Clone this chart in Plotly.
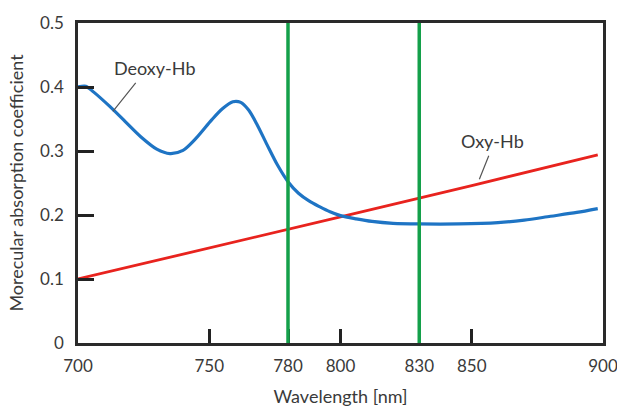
import plotly.graph_objects as go

# Data
deoxy_nm = [700, 703, 706, 712, 718, 724, 730, 735, 740, 745, 751, 755, 759, 762,
            765, 768, 772, 776, 780, 784, 788, 792, 796, 800, 806, 812, 820, 830,
            845, 860, 870, 880, 890, 898]
deoxy_val = [0.400, 0.401, 0.392, 0.370, 0.346, 0.322, 0.303, 0.296, 0.301, 0.320,
             0.349, 0.366, 0.377, 0.376, 0.364, 0.343, 0.310, 0.278, 0.252, 0.234,
             0.222, 0.213, 0.205, 0.199, 0.194, 0.190, 0.187, 0.186, 0.186, 0.188,
             0.192, 0.198, 0.204, 0.210]
oxy_nm = [700, 750, 800, 850, 898]
oxy_val = [0.100, 0.148, 0.197, 0.246, 0.294]

marker_nm = [780, 830]
x_ticks = [700, 750, 780, 800, 830, 850, 900]
x_tick_text = ["700", "750", "780", "800", "830", "850", "900"]
y_ticks = [0, 0.1, 0.2, 0.3, 0.4, 0.5]
y_tick_text = ["0", "0.1", "0.2", "0.3", "0.4", "0.5"]

FONT = "Lato"
TXT = "#3a3a3a"

fig = go.Figure()
fig.add_trace(go.Scatter(x=oxy_nm, y=oxy_val, mode="lines",
                         line=dict(color="#e8231e", width=2.8), showlegend=False))
fig.add_trace(go.Scatter(x=deoxy_nm, y=deoxy_val, mode="lines",
                         line=dict(color="#1e74c4", width=3.2, shape="spline", smoothing=0.8),
                         showlegend=False))

for nm in marker_nm:
    fig.add_shape(type="line", x0=nm, x1=nm, xref="x", y0=0, y1=1, yref="paper",
                  line=dict(color="#14a04a", width=3.5), layer="above")

# labels with leader lines
fig.add_annotation(x=713.3, y=0.362, ax=24, ay=-30, text="", showarrow=True,
                   arrowhead=0, arrowwidth=1.2, arrowcolor="#555", standoff=0)
fig.add_annotation(x=729.3, y=0.430, text="Deoxy-Hb", showarrow=False,
                   font=dict(family=FONT, size=18, color=TXT))
fig.add_annotation(x=852.9, y=0.256, ax=10, ay=-25, text="", showarrow=True,
                   arrowhead=0, arrowwidth=1.2, arrowcolor="#555", standoff=0)
fig.add_annotation(x=857.8, y=0.315, text="Oxy-Hb", showarrow=False,
                   font=dict(family=FONT, size=18, color=TXT))

fig.update_layout(
    width=617, height=407,
    margin=dict(l=78, r=14, t=23, b=64),
    plot_bgcolor="white", paper_bgcolor="white",
    font=dict(family=FONT, size=17, color=TXT),
)
fig.update_xaxes(
    range=[700, 900], tickvals=x_ticks, ticktext=x_tick_text,
    ticks="inside", ticklen=14, tickwidth=3, tickcolor="#222",
    showline=True, linecolor="#2a2a2a", linewidth=2.5, mirror=True,
    showgrid=False, zeroline=False, ticklabelstandoff=6, automargin=False,
    ticklabeloverflow="allow",
    title=dict(text="Wavelength [nm]", standoff=18, font=dict(size=18)),
)
fig.update_yaxes(
    range=[0, 0.5], tickvals=y_ticks, ticktext=y_tick_text,
    ticks="inside", ticklen=16, tickwidth=3, tickcolor="#222",
    showline=True, linecolor="#2a2a2a", linewidth=2.5, mirror=True,
    showgrid=False, zeroline=False, ticklabelstandoff=8, automargin=False,
    title=dict(text="Morecular absorption coefficient", standoff=12, font=dict(size=18)),
)

fig.write_html("out.html", config={"displayModeBar": False},
               post_script="document.body.style.margin='0';")
